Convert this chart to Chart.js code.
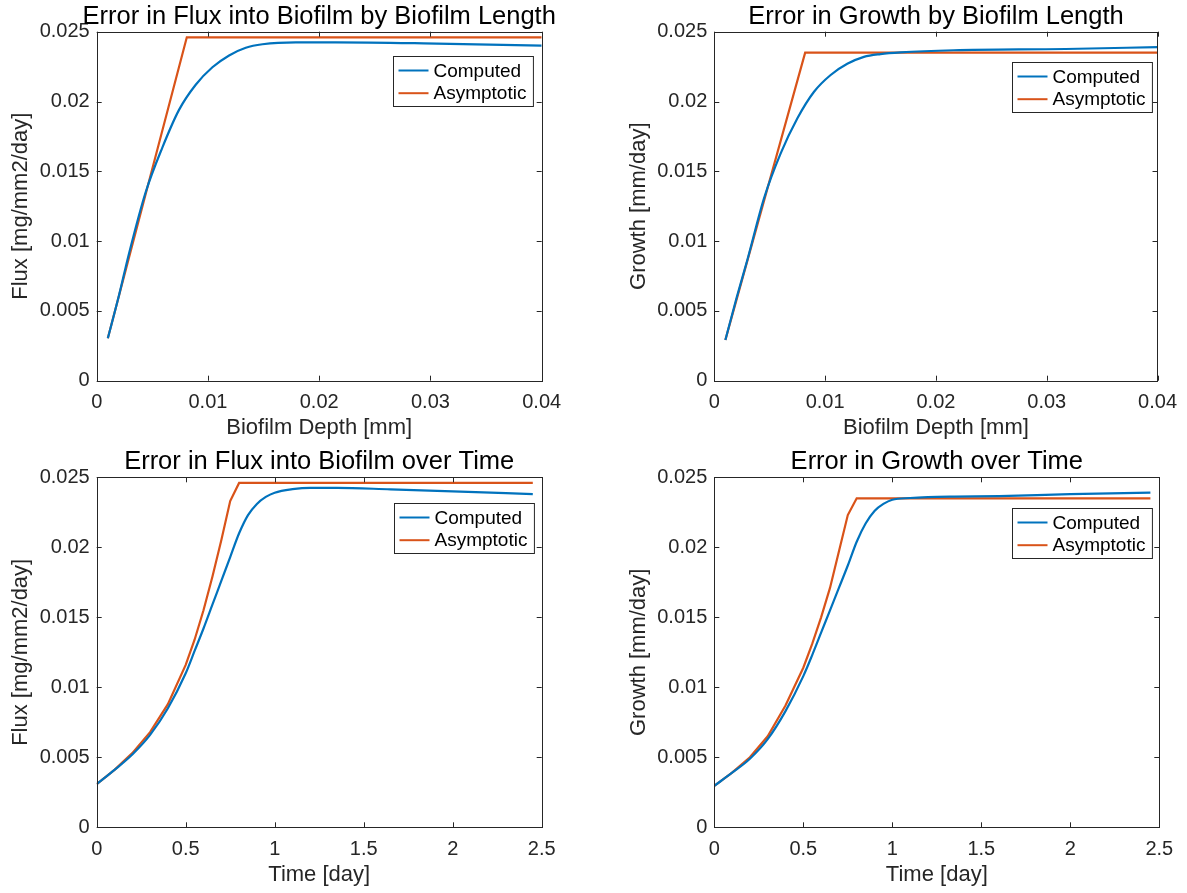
<!DOCTYPE html>
<html>
<head>
<meta charset="utf-8">
<script src="https://cdn.jsdelivr.net/npm/chart.js@4.4.1/dist/chart.umd.min.js"></script>
<style>
  body { margin: 0; background: #fff; }
  .cell { position: absolute; }
  #c1 { left: 0; top: 0; width: 593px; height: 446px; }
  #c2 { left: 593px; top: 0; width: 594px; height: 446px; }
  #c3 { left: 0; top: 446px; width: 593px; height: 447px; }
  #c4 { left: 593px; top: 446px; width: 594px; height: 447px; }
</style>
</head>
<body>
<div class="cell" id="c1"><canvas id="fluxDepth"></canvas></div>
<div class="cell" id="c2"><canvas id="growthDepth"></canvas></div>
<div class="cell" id="c3"><canvas id="fluxTime"></canvas></div>
<div class="cell" id="c4"><canvas id="growthTime"></canvas></div>
<script>
// tick labels
const depthTicks = [0, 0.01, 0.02, 0.03, 0.04];
const timeTicks = [0, 0.5, 1, 1.5, 2, 2.5];
const valueTicks = [0, 0.005, 0.01, 0.015, 0.02, 0.025];
const seriesNames = ['Computed', 'Asymptotic'];

// flux by biofilm depth
const fluxDepthX = [0.001, 0.002, 0.0029, 0.0044, 0.0059, 0.0074, 0.0089, 0.0104, 0.0119, 0.0134, 0.0149, 0.0179, 0.0215, 0.0294, 0.04];
const fluxDepthComputed = [0.00304, 0.0061, 0.0091, 0.0135, 0.0167, 0.0194, 0.0212, 0.02245, 0.0233, 0.02385, 0.0241, 0.02424, 0.02424, 0.02417, 0.0240];
const fluxDepthAsymX = [0.001, 0.0081, 0.04];
const fluxDepthAsym = [0.00304, 0.0246, 0.0246];

// growth by biofilm depth
const growthDepthX = [0.001, 0.002, 0.003, 0.0045, 0.006, 0.0075, 0.009, 0.0105, 0.012, 0.0135, 0.015, 0.0168, 0.0216, 0.0317, 0.04];
const growthDepthComputed = [0.00291, 0.0059, 0.0087, 0.0131, 0.0163, 0.0188, 0.0207, 0.0219, 0.0227, 0.0232, 0.0234, 0.02352, 0.02367, 0.02376, 0.0239];
const growthDepthAsymX = [0.001, 0.0082, 0.04];
const growthDepthAsym = [0.00291, 0.0235, 0.0235];

// flux over time
const fluxTimeX = [0, 0.1, 0.2, 0.3, 0.4, 0.5, 0.55, 0.6, 0.65, 0.7, 0.75, 0.8, 0.85, 0.9, 0.95, 1.0, 1.1, 1.2, 1.35, 1.65, 2.0, 2.45];
const fluxTimeComputed = [0.00308, 0.0041, 0.0052, 0.0066, 0.0085, 0.0110, 0.0126, 0.0142, 0.0159, 0.0176, 0.0193, 0.0210, 0.0223, 0.0231, 0.0236, 0.0239, 0.02415, 0.02425, 0.02425, 0.02414, 0.0240, 0.0238];
const fluxTimeAsymX = [0, 0.1, 0.2, 0.3, 0.4, 0.5, 0.55, 0.6, 0.65, 0.7, 0.75, 0.8, 2.45];
const fluxTimeAsym = [0.00308, 0.0041, 0.0053, 0.0068, 0.0088, 0.0116, 0.0134, 0.0155, 0.0179, 0.0205, 0.0233, 0.0246, 0.0246];

// growth over time
const growthTimeX = [0, 0.1, 0.2, 0.3, 0.4, 0.5, 0.55, 0.6, 0.65, 0.7, 0.75, 0.8, 0.85, 0.9, 0.95, 1.0, 1.1, 1.2, 1.35, 1.6, 2.0, 2.45];
const growthTimeComputed = [0.00296, 0.0039, 0.0049, 0.0063, 0.0083, 0.0108, 0.0123, 0.0139, 0.0155, 0.0171, 0.0187, 0.0204, 0.0217, 0.0226, 0.0231, 0.0234, 0.02352, 0.02358, 0.02362, 0.02366, 0.0238, 0.0239];
const growthTimeAsymX = [0, 0.1, 0.2, 0.3, 0.4, 0.5, 0.55, 0.6, 0.65, 0.7, 0.75, 0.8, 2.45];
const growthTimeAsym = [0.00296, 0.0039, 0.0050, 0.0065, 0.0087, 0.0114, 0.0131, 0.0150, 0.0171, 0.0197, 0.0223, 0.0235, 0.0235];

const BLUE = '#0072BD';
const ORANGE = '#D95319';
const AXIS = '#262626';
const FONT = '"Liberation Sans", Arial, Helvetica, sans-serif';

const pts = (xs, ys) => xs.map((x, i) => ({ x: x, y: ys[i] }));

// matlab style box with inward ticks, a title centred on the axes and a framed legend
const matlabBox = {
  id: 'matlabBox',
  afterDatasetsDraw(chart, args, opts) {
    const { ctx, chartArea: a, scales } = chart;
    ctx.save();
    ctx.strokeStyle = AXIS;
    ctx.lineWidth = 1;
    ctx.beginPath();
    scales.x.ticks.forEach(t => {
      const px = Math.round(scales.x.getPixelForValue(t.value)) + 0.5;
      ctx.moveTo(px, a.bottom); ctx.lineTo(px, a.bottom - 5);
      ctx.moveTo(px, a.top); ctx.lineTo(px, a.top + 5);
    });
    scales.y.ticks.forEach(t => {
      const py = Math.round(scales.y.getPixelForValue(t.value)) + 0.5;
      ctx.moveTo(a.left, py); ctx.lineTo(a.left + 5, py);
      ctx.moveTo(a.right, py); ctx.lineTo(a.right - 5, py);
    });
    ctx.stroke();
    ctx.strokeRect(Math.round(a.left) + 0.5, Math.round(a.top) + 0.5, Math.round(a.right - a.left), Math.round(a.bottom - a.top));

    // title
    ctx.fillStyle = '#000';
    ctx.font = '25.5px ' + FONT;
    ctx.textAlign = 'center';
    ctx.textBaseline = 'alphabetic';
    ctx.fillText(opts.title, (a.left + a.right) / 2, a.top - 8);

    // legend
    ctx.font = '19px ' + FONT;
    const labels = chart.data.datasets.map(d => d.label);
    const tw = Math.max(...labels.map(l => ctx.measureText(l).width));
    const w = 40 + tw + 7, h = 50;
    const lx = Math.round(a.right - opts.right - w) + 0.5;
    const ly = Math.round(a.top + opts.top) + 0.5;
    ctx.fillStyle = '#fff';
    ctx.fillRect(lx, ly, w, h);
    ctx.strokeStyle = AXIS;
    ctx.strokeRect(lx, ly, w, h);
    chart.data.datasets.forEach((d, i) => {
      const cy = ly + 14 + i * 22.7;
      ctx.strokeStyle = d.borderColor;
      ctx.lineWidth = 2;
      ctx.beginPath();
      ctx.moveTo(lx + 5, cy); ctx.lineTo(lx + 35, cy);
      ctx.stroke();
      ctx.fillStyle = '#000';
      ctx.textBaseline = 'middle';
      ctx.textAlign = 'left';
      ctx.fillText(d.label, lx + 40, cy + 1);
    });
    ctx.restore();
  }
};

function makeChart(id, cfg) {
  new Chart(document.getElementById(id), {
    type: 'line',
    data: {
      datasets: [{
        label: seriesNames[0],
        data: pts(cfg.x, cfg.computed),
        borderColor: BLUE,
        borderWidth: 2.2,
        pointRadius: 0,
        cubicInterpolationMode: 'monotone'
      }, {
        label: seriesNames[1],
        data: pts(cfg.asymX, cfg.asym),
        borderColor: ORANGE,
        borderWidth: 2.2,
        pointRadius: 0,
        tension: 0
      }]
    },
    options: {
      responsive: true,
      maintainAspectRatio: false,
      animation: false,
      layout: { padding: { left: 0, right: cfg.padRight, top: cfg.padTop, bottom: 0 } },
      plugins: {
        legend: { display: false },
        tooltip: { enabled: false },
        title: { display: false },
        matlabBox: Object.assign({ title: cfg.title }, cfg.legend)
      },
      scales: {
        x: {
          type: 'linear',
          min: cfg.xTicks[0],
          max: cfg.xTicks[cfg.xTicks.length - 1],
          afterBuildTicks: s => { s.ticks = cfg.xTicks.map(v => ({ value: v })); },
          afterFit: s => { s.height = cfg.xHeight; },
          grid: { display: false, drawTicks: false },
          border: { display: false },
          ticks: { color: AXIS, padding: 10, maxRotation: 0, font: { family: FONT, size: 20 }, callback: v => String(v) },
          title: { display: true, text: cfg.xTitle, color: AXIS, font: { family: FONT, size: 22 }, padding: { top: 0, bottom: 5 } }
        },
        y: {
          min: 0,
          max: 0.025,
          afterBuildTicks: s => { s.ticks = valueTicks.map(v => ({ value: v })); },
          afterFit: s => { s.width = cfg.yWidth; },
          grid: { display: false, drawTicks: false },
          border: { display: false },
          ticks: { color: AXIS, padding: 7, font: { family: FONT, size: 20 }, callback: v => String(v) },
          title: { display: true, text: cfg.yTitle, color: AXIS, font: { family: FONT, size: 22 }, padding: { top: cfg.yTitlePad, bottom: 0 } }
        }
      }
    },
    plugins: [matlabBox]
  });
}

makeChart('fluxDepth', {
  title: 'Error in Flux into Biofilm by Biofilm Length',
  xTitle: 'Biofilm Depth [mm]', yTitle: 'Flux [mg/mm2/day]',
  x: fluxDepthX, computed: fluxDepthComputed, asymX: fluxDepthAsymX, asym: fluxDepthAsym,
  xTicks: depthTicks, padRight: 51.3, padTop: 31.7, yWidth: 96.7, xHeight: 65.3, yTitlePad: 8,
  legend: { right: 8.4, top: 24 }
});
makeChart('growthDepth', {
  title: 'Error in Growth by Biofilm Length',
  xTitle: 'Biofilm Depth [mm]', yTitle: 'Growth [mm/day]',
  x: growthDepthX, computed: growthDepthComputed, asymX: growthDepthAsymX, asym: growthDepthAsym,
  xTicks: depthTicks, padRight: 27.7, padTop: 31.7, yWidth: 121.3, xHeight: 65.3, yTitlePad: 32.4,
  legend: { right: 5.3, top: 30 }
});
makeChart('fluxTime', {
  title: 'Error in Flux into Biofilm over Time',
  xTitle: 'Time [day]', yTitle: 'Flux [mg/mm2/day]',
  x: fluxTimeX, computed: fluxTimeComputed, asymX: fluxTimeAsymX, asym: fluxTimeAsym,
  xTicks: timeTicks, padRight: 51.3, padTop: 31.3, yWidth: 96.7, xHeight: 65.7, yTitlePad: 8,
  legend: { right: 7.4, top: 25.4 }
});
makeChart('growthTime', {
  title: 'Error in Growth over Time',
  xTitle: 'Time [day]', yTitle: 'Growth [mm/day]',
  x: growthTimeX, computed: growthTimeComputed, asymX: growthTimeAsymX, asym: growthTimeAsym,
  xTicks: timeTicks, padRight: 27.7, padTop: 31.3, yWidth: 121.3, xHeight: 65.7, yTitlePad: 32.4,
  legend: { right: 7.6, top: 31 }
});
</script>
</body>
</html>
